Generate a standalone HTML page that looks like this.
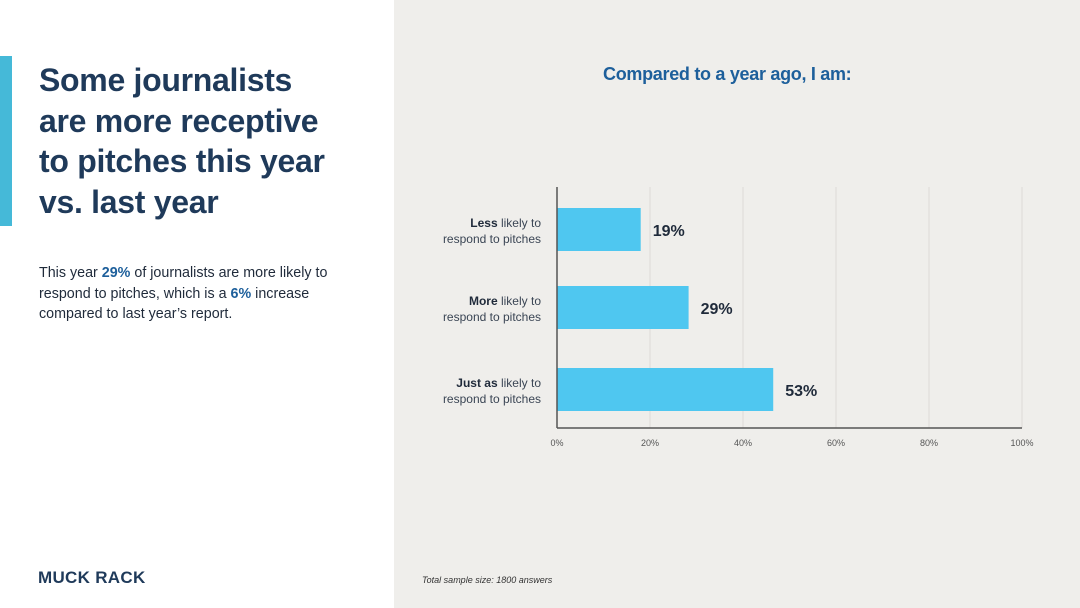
<!DOCTYPE html>
<html><head><meta charset="utf-8"><style>
body{margin:0;width:1080px;height:608px;position:relative;background:#fff;font-family:"Liberation Sans",sans-serif;overflow:hidden}
.abs{position:absolute}
</style></head><body>
<div class="abs" style="left:0;top:56px;width:12px;height:170px;background:#45b9d8"></div>
<div class="abs" style="left:39px;top:60px;width:360px;font-size:32px;font-weight:bold;line-height:40.5px;color:#1f3a5a;letter-spacing:-0.3px;white-space:nowrap">Some journalists<br>are more receptive<br>to pitches this year<br>vs. last year</div>
<div class="abs" style="left:39px;top:263px;width:340px;font-size:14.3px;line-height:20.5px;color:#1f2a3a;white-space:nowrap">This year <b style="color:#1d5f9b">29%</b> of journalists are more likely to<br>respond to pitches, which is a <b style="color:#1d5f9b">6%</b> increase<br>compared to last year’s report.</div>
<div class="abs" style="left:38px;top:568px;font-size:17px;font-weight:bold;color:#1f3a5a;letter-spacing:0.3px">MUCK RACK</div>
<div class="abs" style="left:394px;top:0;width:686px;height:608px;background:#efeeeb"></div>
<div class="abs" style="left:603px;top:64px;font-size:18px;font-weight:bold;color:#1d5f9b;letter-spacing:-0.3px;white-space:nowrap">Compared to a year ago, I am:</div>
<div class="abs" style="left:422px;top:575px;font-size:9px;font-style:italic;color:#333">Total sample size: 1800 answers</div>
<svg id="chart" class="abs" style="left:0;top:0" width="1080" height="608"></svg>
<script>
const categoriesBold=["Less","More","Just as"];
const values=[18,28.3,46.5];
const valueLabels=["19%","29%","53%"];
const ticks=[0,20,40,60,80,100];
const x0=557,x1=1022,yTop=187,yBot=428;
const barTops=[208,286,368],barH=43;
const xs=v=>x0+(x1-x0)*v/100;
const svg=document.getElementById('chart');
const NS='http://www.w3.org/2000/svg';
function mk(t,a){const e=document.createElementNS(NS,t);for(const k in a)e.setAttribute(k,a[k]);svg.appendChild(e);return e;}
ticks.forEach(t=>{
 if(t>0){const g=mk('line',{x1:xs(t),x2:xs(t),y1:yTop,y2:yBot,stroke:'#dcdbd7','stroke-width':1});
 
 }
 const tx=mk('text',{x:xs(t),y:446,'text-anchor':'middle','font-size':9,fill:'#555','font-family':'Liberation Sans'});
 tx.textContent=t+'%';
 
 
});
values.forEach((v,i)=>{
 const r=mk('rect',{x:x0,y:barTops[i],width:xs(v)-x0,height:barH,fill:'#4fc7f0'});
 
 
 const l=mk('text',{x:xs(v)+12,y:barTops[i]+28,'font-size':16,'font-weight':'bold',fill:'#1f2a3a','font-family':'Liberation Sans'});
 l.textContent=valueLabels[i];
 
 
 const c=mk('text',{x:541,y:barTops[i]+19,'text-anchor':'end','font-size':12,fill:'#3a4554','font-family':'Liberation Sans'});
 c.innerHTML='<tspan font-weight="bold" fill="#1f2a3a">'+categoriesBold[i]+'</tspan> likely to';
 
 
 const c2=mk('text',{x:541,y:barTops[i]+35,'text-anchor':'end','font-size':12,fill:'#3a4554','font-family':'Liberation Sans'});
 c2.textContent='respond to pitches';
 
 
});
const ax=mk('line',{x1:x0,x2:x0,y1:yTop,y2:yBot,stroke:'#555','stroke-width':1.5});


const bx=mk('line',{x1:x0,x2:x1,y1:yBot,y2:yBot,stroke:'#555','stroke-width':1.5});


</script>
</body></html>
